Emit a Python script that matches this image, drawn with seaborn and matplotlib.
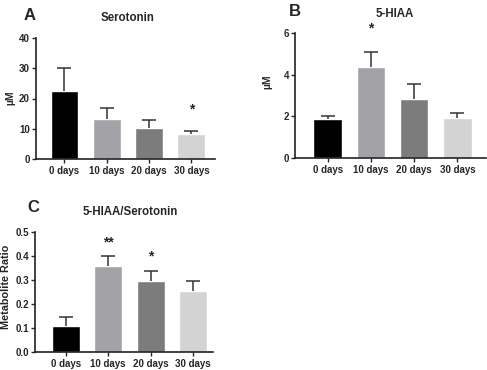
import numpy as np
import pandas as pd
import matplotlib
matplotlib.use('Agg')
import matplotlib.pyplot as plt
import seaborn as sns

# datos
dias = ['0 days', '10 days', '20 days', '30 days']
serotonina = [22.5, 13.3, 10.3, 8.2]
serotonina_err = [7.7, 3.4, 2.5, 1.1]
hiaa = [1.85, 4.35, 2.85, 1.92]
hiaa_err = [0.17, 0.75, 0.70, 0.25]
ratio = [0.108, 0.357, 0.295, 0.253]
ratio_err = [0.036, 0.042, 0.042, 0.042]
colores = ['#000000', '#a2a2a7', '#7c7c7c', '#d3d3d3']

sns.set_style('white')
plt.rcParams['font.family'] = ['Liberation Sans', 'DejaVu Sans']
plt.rcParams['font.weight'] = 'bold'

W, H = 487, 370
fig = plt.figure(figsize=(W / 100, H / 100), dpi=100)


def px_axes(left, right, top, bottom):
    return fig.add_axes([left / W, (H - bottom) / H, (right - left) / W, (bottom - top) / H])


def px_text(x, y, s, **kw):
    fig.text(x / W, 1 - y / H, s, ha='center', va='center', fontweight='bold', **kw)


def panel(ax, valores, errores, ylim, yticks, xlim):
    df = pd.DataFrame({'dia': dias, 'valor': valores})
    sns.barplot(data=df, x='dia', y='valor', hue='dia', palette=colores,
                width=0.66, errorbar=None, legend=False, ax=ax, saturation=1)
    eb = ax.errorbar(range(len(dias)), valores, yerr=[np.zeros(len(errores)), errores],
                     fmt='none', ecolor='#333333', elinewidth=1.1, capsize=5, capthick=1.1)
    # solo la barra superior, como en GraphPad
    eb[1][0].set_visible(False)
    ax.set_ylim(*ylim)
    ax.set_xlim(*xlim)
    ax.set_yticks(yticks)
    ax.set_xlabel('')
    ax.set_ylabel('')
    sns.despine(ax=ax)
    for s in ['left', 'bottom']:
        ax.spines[s].set_linewidth(1.2)
        ax.spines[s].set_color('#222222')
    ax.tick_params(axis='y', length=3, width=1.0, labelsize=7, pad=1, direction='out', left=True)
    ax.tick_params(axis='x', length=3, width=1.0, labelsize=7, pad=2, direction='out', bottom=True)
    for t in ax.get_xticklabels() + ax.get_yticklabels():
        t.set_fontweight('bold')


# A
axA = px_axes(35.5, 215, 38, 159)
panel(axA, serotonina, serotonina_err, (0, 40), [0, 10, 20, 30, 40], (-0.685, 3.56))
axA.text(3, 16.5, '*', ha='center', va='center', fontsize=10, fontweight='bold')
px_text(30, 15, 'A', fontsize=12)
px_text(128, 18, 'Serotonin', fontsize=8.3)
px_text(10, 98, 'µM', fontsize=7.5, rotation=90)

# B
axB = px_axes(295, 486, 33, 158)
panel(axB, hiaa, hiaa_err, (0, 6), [0, 2, 4, 6], (-0.755, 3.66))
axB.text(1, 6.2, '*', ha='center', va='center', fontsize=10, fontweight='bold', clip_on=False)
px_text(295, 11, 'B', fontsize=12)
px_text(395, 14, '5-HIAA', fontsize=8.3)
px_text(267, 82, 'µM', fontsize=7.5, rotation=90)

# C
axC = px_axes(35, 213, 232, 352)
panel(axC, ratio, ratio_err, (0, 0.5), [0.0, 0.1, 0.2, 0.3, 0.4, 0.5], (-0.73, 3.475))
axC.yaxis.set_major_formatter(matplotlib.ticker.FormatStrFormatter('%.1f'))
axC.tick_params(axis='y', labelsize=7)
axC.text(1, 0.455, '**', ha='center', va='center', fontsize=10, fontweight='bold')
axC.text(2, 0.397, '*', ha='center', va='center', fontsize=10, fontweight='bold')
px_text(33, 208, 'C', fontsize=12)
px_text(130, 212, '5-HIAA/Serotonin', fontsize=8.3)
px_text(6, 287, 'Metabolite Ratio', fontsize=7.8, rotation=90)

fig.savefig('out.png', dpi=100)
